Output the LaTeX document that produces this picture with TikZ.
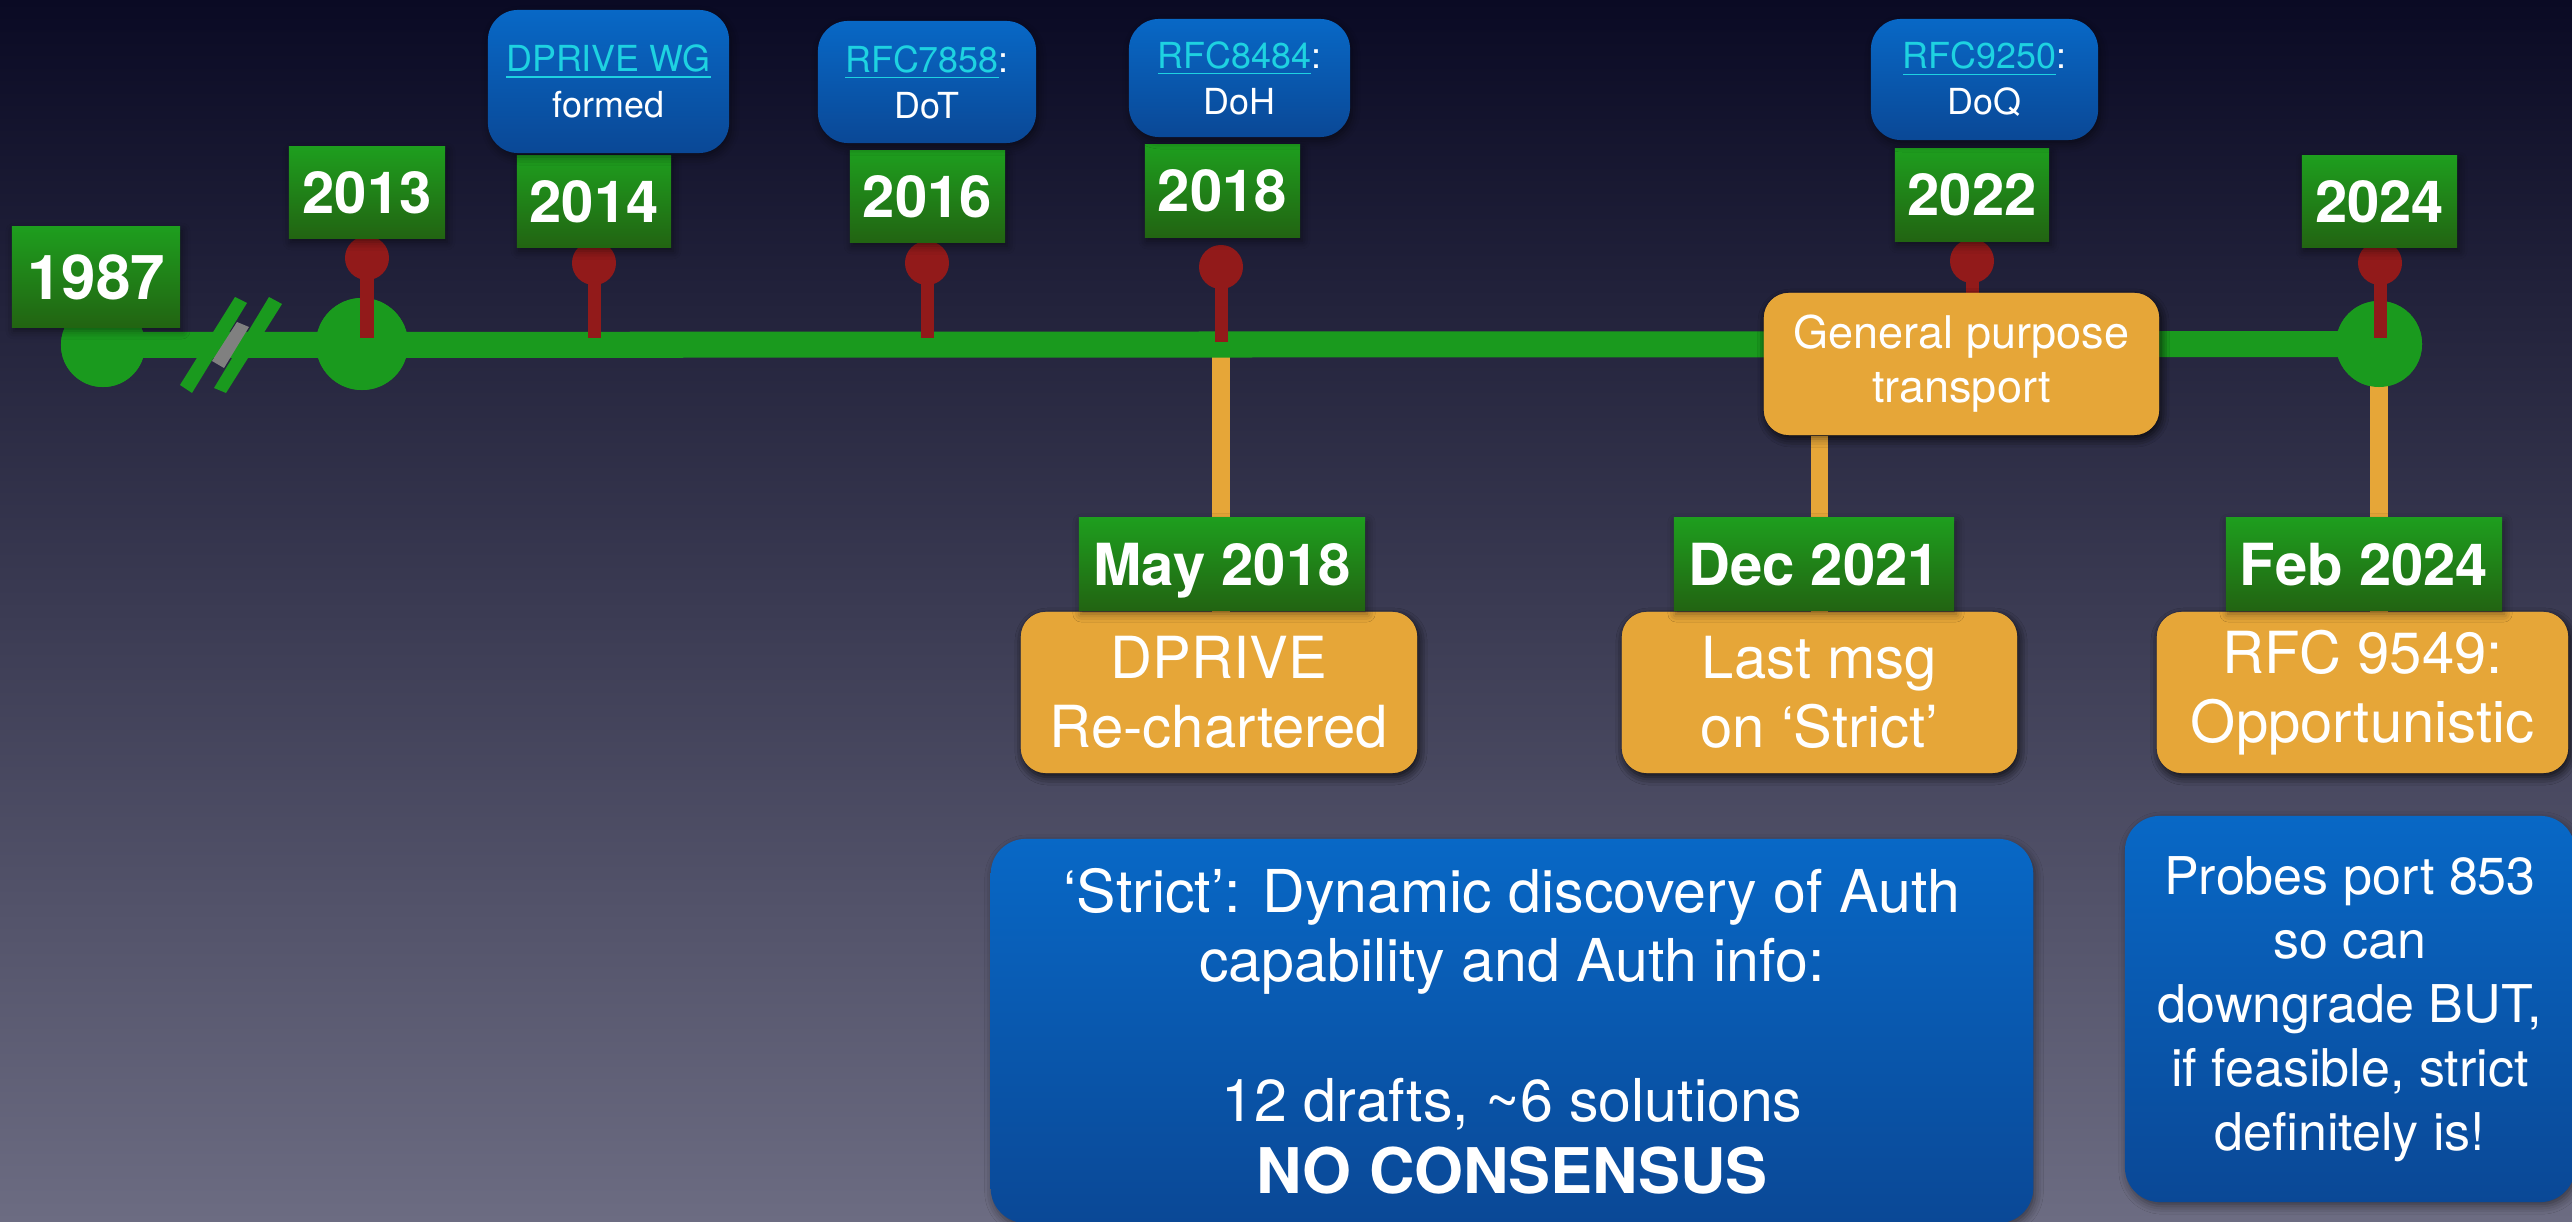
\documentclass[tikz,border=0pt]{standalone}
\usepackage{fontspec}
\setmainfont{TeX Gyre Heros}
\usetikzlibrary{shadows.blur}
\definecolor{bgtop}{RGB}{10,10,36}
\definecolor{bgbot}{RGB}{108,108,130}
\definecolor{tlgreen}{RGB}{26,154,30}
\definecolor{gtop}{RGB}{30,158,30}
\definecolor{gbot}{RGB}{34,100,18}
\definecolor{pinred}{RGB}{146,26,26}
\definecolor{orng}{RGB}{230,166,56}
\definecolor{btop}{RGB}{8,104,198}
\definecolor{bbot}{RGB}{10,72,150}
\definecolor{linkc}{RGB}{30,210,225}
\definecolor{brkgray}{RGB}{128,128,128}
\newcommand{\myfs}[2]{\fontsize{#1}{#2}\selectfont}
\newcommand{\lnk}[1]{{\color{linkc}\underline{#1}}}
\tikzset{
  shd/.style={blur shadow={shadow xshift=0.02cm, shadow yshift=-0.04cm, shadow blur radius=0.08cm, shadow opacity=45}},
  yearbox/.style={inner sep=0pt, top color=gtop, bottom color=gbot, text=white, text depth=0pt,
    font=\myfs{16.5}{19}\bfseries, shd},
  bluesmall/.style={inner sep=0pt, rounded corners=0.3cm, top color=btop, bottom color=bbot,
    text=white, align=center, font=\myfs{10.2}{13.1}, shd},
  orbox/.style={inner sep=0pt, rounded corners=0.25cm, fill=orng, text=white, align=center,
    font=\myfs{16.5}{19.6}, shd},
  bigblue/.style={inner sep=0pt, rounded corners=0.35cm, top color=btop, bottom color=bbot,
    text=white, align=center, shd},
  tlcircle/.style={circle, inner sep=0pt, fill=tlgreen},
  pinball/.style={circle, inner sep=0pt, minimum size=0.44cm, fill=pinred},
  pinstem/.style={pinred, line width=3.7pt},
  orconn/.style={orng, line width=5.1pt},
  tline/.style={tlgreen, line width=7.4pt},
}
\begin{document}
\begin{tikzpicture}[x=0.01cm, y=-0.01cm]
% background
\shade[top color=bgtop, bottom color=bgbot] (0,0) rectangle (2572,1222);
\useasboundingbox (0,0) rectangle (2572,1222);

% anchor coordinates on the timeline
\coordinate (o2018) at (1221,345);
\coordinate (t2013) at (367,338);
\coordinate (t2014) at (594,338);
\coordinate (t2016) at (927,338);
\coordinate (t2018) at (1221,342);
\coordinate (t2022) at (1972,338);
\coordinate (t2024) at (2380,338);

% circles
\node[tlcircle, minimum size=0.84cm] (c1987) at (103,345) {};
\node[tlcircle, minimum size=0.92cm] (c2013) at (362,344) {};
\node[tlcircle, minimum size=0.86cm] (c2024) at (2379,344) {};

% boxes below (defined first for connectors)
\node[orbox, minimum width=3.96cm, minimum height=1.61cm] (rech) at (1219,692.5) {DPRIVE\\Re-chartered};
\node[orbox, minimum width=3.95cm, minimum height=1.61cm] (last) at (1819.5,692.5) {Last msg\\on ‘Strict’};
\node[orbox, minimum width=4.11cm, minimum height=1.61cm] (rfc9549) at (2362.5,692.5) {RFC 9549:\\Opportunistic};

% orange connectors
\draw[orconn] (o2018) -- (o2018 |- rech.center);
\draw[orconn] (c2024.center) -- (c2024.center |- rfc9549.center);

% timeline
\draw[tline] (c1987.center) -- (c2024.center);
\node[tlcircle, minimum size=0.84cm] at (c1987) {};
\node[tlcircle, minimum size=0.92cm] at (c2013) {};
\node[tlcircle, minimum size=0.86cm] at (c2024) {};

% break mark
\fill[brkgray] (237,322) -- (249,327) -- (224,368) -- (212,361) -- cycle;
\fill[tlgreen] (180,385) -- (235,297) -- (247,303) -- (192,393) -- cycle;
\fill[tlgreen] (214,388) -- (269,297) -- (282,304) -- (226,393) -- cycle;

% red pins
\node[pinball] (p2013) at (367,258) {};
\node[pinball] (p2014) at (594,263) {};
\node[pinball] (p2016) at (927,263) {};
\node[pinball] (p2018) at (1221,267) {};
\node[pinball] (p2022) at (1972,261) {};
\node[pinball] (p2024) at (2380,263) {};
\draw[pinstem] (p2013.center) -- (t2013);
\draw[pinstem] (p2014.center) -- (t2014);
\draw[pinstem] (p2016.center) -- (t2016);
\draw[pinstem] (p2018.center) -- (t2018);
\draw[pinstem] (p2022.center) -- (t2022);
\draw[pinstem] (p2024.center) -- (t2024);

% general purpose box and its connector
\node[orbox, minimum width=3.95cm, minimum height=1.42cm, font=\myfs{12.8}{15.4}] (gp) at (1961.5,364) {General purpose\\transport};
\draw[orconn] (gp.south -| last.north) -- (last.center);
\node[orbox, minimum width=3.95cm, minimum height=1.42cm, font=\myfs{12.8}{15.4}] at (gp) {General purpose\\transport};
\node[orbox, minimum width=3.96cm, minimum height=1.61cm] at (rech) {DPRIVE\\Re-chartered};
\node[orbox, minimum width=3.95cm, minimum height=1.61cm] at (last) {Last msg\\on ‘Strict’};
\node[orbox, minimum width=4.11cm, minimum height=1.61cm] at (rfc9549) {RFC 9549:\\Opportunistic};

% year boxes
\node[yearbox, minimum width=1.68cm, minimum height=1.00cm, font=\myfs{17.6}{20}\bfseries] (y1987) at (96,277) {1987};
\node[yearbox, minimum width=1.56cm, minimum height=0.91cm] (y2013) at (367,192.5) {2013};
\node[yearbox, minimum width=1.54cm, minimum height=0.91cm] (y2014) at (594,201.5) {2014};
\node[yearbox, minimum width=1.55cm, minimum height=0.91cm] (y2016) at (927.5,196.5) {2016};
\node[yearbox, minimum width=1.55cm, minimum height=0.92cm] (y2018) at (1222.5,191) {2018};
\node[yearbox, minimum width=1.54cm, minimum height=0.92cm] (y2022) at (1972,195) {2022};
\node[yearbox, minimum width=1.55cm, minimum height=0.91cm] (y2024) at (2379.5,201.5) {2024};

% date boxes
\node[yearbox, minimum width=2.86cm, minimum height=0.92cm] (d2018) at (1222,564) {May 2018};
\node[yearbox, minimum width=2.80cm, minimum height=0.92cm] (d2021) at (1814,564) {Dec 2021};
\node[yearbox, minimum width=2.76cm, minimum height=0.92cm] (d2024) at (2364,564) {Feb 2024};

% blue boxes above
\node[bluesmall, minimum width=2.41cm, minimum height=1.43cm] (wg) at (608.5,81.5) {\lnk{DPRIVE WG}\\formed};
\node[bluesmall, minimum width=2.18cm, minimum height=1.22cm] (dot) at (927,82) {\lnk{RFC7858}:\\DoT};
\node[bluesmall, minimum width=2.21cm, minimum height=1.18cm] (doh) at (1239.5,78) {\lnk{RFC8484}:\\DoH};
\node[bluesmall, minimum width=2.27cm, minimum height=1.21cm] (doq) at (1984.5,79.5) {\lnk{RFC9250}:\\DoQ};

% big blue boxes
\node[bigblue, minimum width=10.42cm, minimum height=3.84cm, font=\myfs{16.8}{19.8}] (strict) at (1512,1031) {‘Strict’: Dynamic discovery of Auth\\capability and Auth info:\\[19.8pt]12 drafts, \textasciitilde6 solutions\\[0.7pt]{\bfseries\myfs{17.9}{20.5}NO CONSENSUS}};
\node[bigblue, minimum width=4.50cm, minimum height=3.86cm, font=\myfs{14.8}{18.2}] (probes) at (2350,1009) {Probes port 853\\so can\\downgrade BUT,\\if feasible, strict\\definitely is!};
\end{tikzpicture}
\end{document}
